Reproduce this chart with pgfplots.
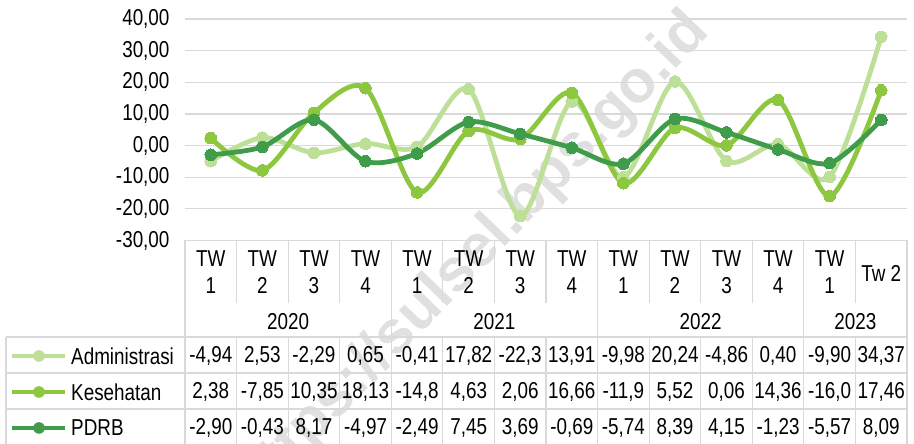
\documentclass[border=0pt]{standalone}
\usepackage{fontspec}
\setmainfont[FakeStretch=0.82]{Liberation Sans}
\newfontfamily\wmfont{Liberation Sans}
\usepackage{pgfplots}
\pgfplotsset{compat=1.18}
\definecolor{cAdm}{RGB}{190,223,152}
\definecolor{cKes}{RGB}{141,198,63}
\definecolor{cPdr}{RGB}{62,156,74}
\definecolor{cGrid}{RGB}{217,217,217}
\newcommand{\tf}{\fontsize{23}{27}\selectfont}
\begin{document}
\begin{tikzpicture}
% watermark
\node[rotate=46, anchor=base east, inner sep=0pt, text=black!12, font=\wmfont\bfseries\fontsize{60}{60}\selectfont] at (526pt,207pt) {https://sulsel.bps.go.id};
\begin{axis}[
  at={(0pt,0pt)}, anchor=south west,
  scale only axis, width=722pt, height=221.5pt,
  xmin=-0.5, xmax=13.5, ymin=-30, ymax=40,
  ytick={-30,-20,...,40}, xtick=\empty,
  axis line style={draw=none},
  ymajorgrids, grid style={draw=cGrid, line width=1.2pt},
  major tick length=0pt,
  yticklabel style={font=\tf, anchor=east, xshift=-12pt},
  clip=false,
  every axis plot/.append style={smooth, tension=0.5, line width=4.8pt, mark=*, mark size=5.8pt},
  /pgf/number format/.cd, fixed, fixed zerofill, precision=2, use comma, 1000 sep={}, assume math mode=true
]
\addplot[color=cAdm, mark options={fill=cAdm, draw=cAdm, line width=0pt}] coordinates {
(0,-4.94)(1,2.53)(2,-2.29)(3,0.65)(4,-0.41)(5,17.82)(6,-22.3)(7,13.91)(8,-9.98)(9,20.24)(10,-4.86)(11,0.40)(12,-9.90)(13,34.37)};
\addplot[color=cKes, mark options={fill=cKes, draw=cKes, line width=0pt}] coordinates {
(0,2.38)(1,-7.85)(2,10.35)(3,18.13)(4,-14.8)(5,4.63)(6,2.06)(7,16.66)(8,-11.9)(9,5.52)(10,0.06)(11,14.36)(12,-16.0)(13,17.46)};
\addplot[color=cPdr, mark options={fill=cPdr, draw=cPdr, line width=0pt}] coordinates {
(0,-2.90)(1,-0.43)(2,8.17)(3,-4.97)(4,-2.49)(5,7.45)(6,3.69)(7,-0.69)(8,-5.74)(9,8.39)(10,4.15)(11,-1.23)(12,-5.57)(13,8.09)};
\end{axis}
% ---- data table ----
\def\w{51.5714}
\begin{scope}[draw=cGrid, line width=1.2pt]
  \draw (0pt,0pt) -- (722pt,0pt);
  \draw (-179pt,-96.5pt) -- (722pt,-96.5pt);
  \draw (-179pt,-132.5pt) -- (722pt,-132.5pt);
  \draw (-179pt,-168.5pt) -- (722pt,-168.5pt);
  \draw (-179pt,-96.5pt) -- (-179pt,-204pt);
  \draw (0pt,0pt) -- (0pt,-204pt);
  \draw (722pt,0pt) -- (722pt,-204pt);
  \foreach \i in {1,2,3,5,6,7,9,10,11,13} {
    \draw (\i*\w pt,0pt) -- (\i*\w pt,-62.5pt);
    \draw (\i*\w pt,-96.5pt) -- (\i*\w pt,-204pt);
  }
  \foreach \i in {4,8,12} {
    \draw (\i*\w pt,0pt) -- (\i*\w pt,-204pt);
  }
\end{scope}
\foreach \q [count=\i from 0] in {1,2,3,4,1,2,3,4,1,2,3,4,1} {
  \node[font=\tf, align=center, inner sep=0pt] at ({(\i+0.5)*\w pt},-32pt) {TW\\\q};
}
\node[font=\tf, inner sep=0pt] at ({13.5*\w pt},-32.5pt) {Tw 2};
\node[font=\tf, inner sep=0pt] at ({2*\w pt},-81.5pt) {2020};
\node[font=\tf, inner sep=0pt] at ({6*\w pt},-81.5pt) {2021};
\node[font=\tf, inner sep=0pt] at ({10*\w pt},-81.5pt) {2022};
\node[font=\tf, inner sep=0pt] at ({13*\w pt},-81.5pt) {2023};
\foreach \v [count=\i from 0] in {{-4,94},{2,53},{-2,29},{0,65},{-0,41},{17,82},{-22,3},{13,91},{-9,98},{20,24},{-4,86},{0,40},{-9,90},{34,37}} {
  \node[font=\tf, inner sep=0pt] at ({(\i+0.5)*\w pt},-115.5pt) {\v};
}
\foreach \v [count=\i from 0] in {{2,38},{-7,85},{10,35},{18,13},{-14,8},{4,63},{2,06},{16,66},{-11,9},{5,52},{0,06},{14,36},{-16,0},{17,46}} {
  \node[font=\tf, inner sep=0pt] at ({(\i+0.5)*\w pt},-151.5pt) {\v};
}
\foreach \v [count=\i from 0] in {{-2,90},{-0,43},{8,17},{-4,97},{-2,49},{7,45},{3,69},{-0,69},{-5,74},{8,39},{4,15},{-1,23},{-5,57},{8,09}} {
  \node[font=\tf, inner sep=0pt] at ({(\i+0.5)*\w pt},-187.5pt) {\v};
}
% legend keys
\foreach \c/\t/\y in {cAdm/Administrasi/-115.5, cKes/Kesehatan/-151.5, cPdr/PDRB/-187.5} {
  \draw[\c, line width=4.8pt] (-173pt,\y pt) -- (-120pt,\y pt);
  \fill[\c] (-146pt,\y pt) circle (5.8pt);
  \node[font=\tf, anchor=west, inner sep=0pt] at (-114pt,\y pt) {\t};
}
\pgfresetboundingbox
\path[use as bounding box] (-185pt,-203.5pt) rectangle (729pt,240.5pt);
\end{tikzpicture}
\end{document}
